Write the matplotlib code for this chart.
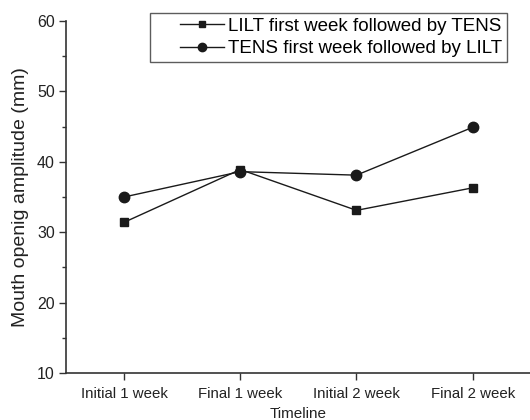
import matplotlib
matplotlib.use("Agg")
import matplotlib.pyplot as plt
from matplotlib.ticker import MultipleLocator
from matplotlib.legend_handler import HandlerLine2D

categories = ["Initial 1 week", "Final 1 week", "Initial 2 week", "Final 2 week"]
lilt_first = [31.4, 38.9, 33.1, 36.3]
tens_first = [35.0, 38.6, 38.1, 44.9]
series_names = ["LILT first week followed by TENS", "TENS first week followed by LILT"]

plt.rcParams['font.family'] = ['Liberation Sans', 'DejaVu Sans']
col = '#1a1a1a'


class RightHandler(HandlerLine2D):
    frac = 0.64

    def create_artists(self, legend, orig_handle, xdescent, ydescent, width, height, fontsize, trans):
        w2 = width * self.frac
        return super().create_artists(legend, orig_handle, xdescent - (width - w2), ydescent,
                                      w2, height, fontsize, trans)


fig = plt.figure(figsize=(5.3, 4.2), dpi=100)
ax = fig.add_axes([0.1245, 0.112, 0.877, 0.838])
x = list(range(len(categories)))
l1, = ax.plot(x, lilt_first, marker='s', color=col, lw=1.0, ms=5.5, label=series_names[0])
l2, = ax.plot(x, tens_first, marker='o', color=col, lw=1.0, ms=7.5, label=series_names[1])

ax.set_xlim(-0.5, 3.5)
ax.set_ylim(10, 60)
ax.set_xticks(x)
ax.set_xticklabels(categories, fontsize=10.8)
ax.yaxis.set_major_locator(MultipleLocator(10))
ax.yaxis.set_minor_locator(MultipleLocator(5))
ax.tick_params(axis='y', labelsize=11.5, direction='out', length=5, width=1, colors='#333333', labelcolor='#222222', pad=3)
ax.tick_params(axis='y', which='minor', length=3, width=1, colors='#333333')
ax.tick_params(axis='x', direction='out', length=5, width=1, colors='#333333', labelcolor='#222222', pad=5)
for s in ['top', 'right']:
    ax.spines[s].set_visible(False)
for s in ['left', 'bottom']:
    ax.spines[s].set_color('#333333')
    ax.spines[s].set_linewidth(1.2)

ax.set_xlabel("Timeline", fontsize=11, color='#222222', labelpad=4.5)
ax.set_ylabel("Mouth openig amplitude (mm)", fontsize=14, color='#222222', labelpad=6)

leg = ax.legend(handles=[l1, l2], loc='upper right', bbox_to_anchor=(0.948, 1.023), fontsize=13.5,
                frameon=True, fancybox=False, handlelength=3.7, borderpad=0.25,
                labelspacing=0.3, handletextpad=0.2, borderaxespad=0, markerscale=0.8,
                handler_map={l1: RightHandler(), l2: RightHandler()})
leg.get_frame().set_edgecolor('#333333')
leg.get_frame().set_linewidth(1.0)

fig.savefig("out.png", dpi=100)
